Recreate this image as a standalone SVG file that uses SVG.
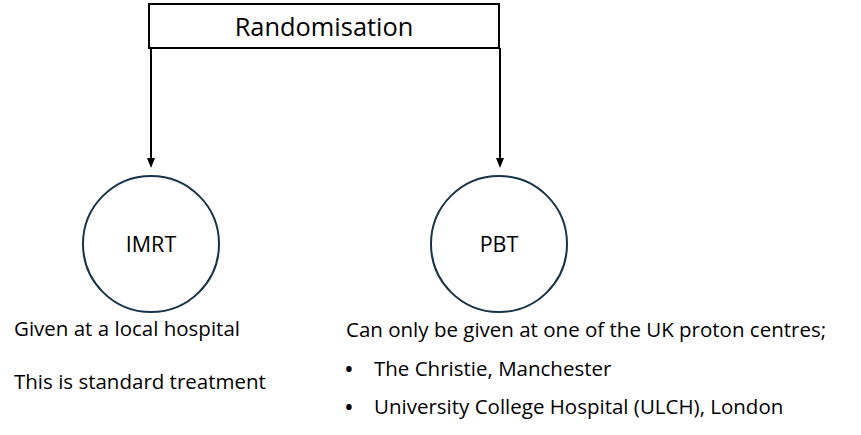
<svg xmlns="http://www.w3.org/2000/svg" width="861" height="435" viewBox="0 0 861 435">
<style>
.t{font-family:"Open Sans","Liberation Sans",sans-serif;fill:#000}
.lbl{font-size:20.5px}
.nd{font-size:21.5px}
.bl{font-size:26px}
.c{fill:#fff;stroke:#163347;stroke-width:2}
.ln{stroke:#000;stroke-width:2;fill:none}
</style>
<defs>
<marker id="ah" markerWidth="10" markerHeight="10" refX="5" refY="5" orient="auto" markerUnits="userSpaceOnUse">
<path d="M0,1 L10,5 L0,9 Z" fill="#000"/>
</marker>
</defs>
<rect width="861" height="435" fill="#fff"/>
<g id="randomisation">
<rect x="149" y="4" width="350" height="44" fill="#fff" stroke="#000" stroke-width="2"/>
<text class="t" x="324" y="36" font-size="25.4" text-anchor="middle">Randomisation</text>
</g>
<g id="connectors">
<line class="ln" x1="151" y1="48" x2="151" y2="163" marker-end="url(#ah)"/>
<line class="ln" x1="500" y1="48" x2="500" y2="163" marker-end="url(#ah)"/>
</g>
<g id="imrt">
<circle class="c" cx="151" cy="244" r="68"/>
<text class="t nd" x="151" y="252" text-anchor="middle">IMRT</text>
</g>
<g id="pbt">
<circle class="c" cx="499" cy="244" r="68"/>
<text class="t nd" x="499" y="252" text-anchor="middle">PBT</text>
</g>
<g id="imrt-notes">
<text class="t lbl" x="14" y="336">Given at a local hospital</text>
<text class="t lbl" x="14" y="389">This is standard treatment</text>
</g>
<g id="pbt-notes">
<text class="t lbl" x="346" y="337">Can only be given at one of the UK proton centres;</text>
<text class="t bl" x="344" y="378">•</text>
<text class="t lbl" x="374" y="376">The Christie, Manchester</text>
<text class="t bl" x="344" y="416">•</text>
<text class="t lbl" x="374" y="414">University College Hospital (ULCH), London</text>
</g>
</svg>
